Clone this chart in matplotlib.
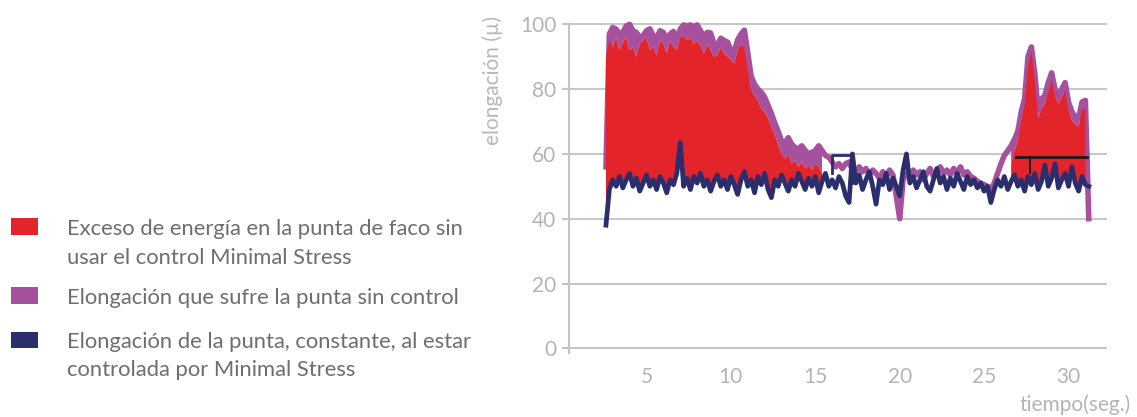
#------
# Elongacion de la punta de faco con y sin control Minimal Stress
#------
import numpy as np
import matplotlib.pyplot as plt
from matplotlib.patches import Rectangle

#------ Datos (muestreo cada 0.2 s desde 2.6 s)
t0, dt = 2.6, 0.2

# Elongacion sin control (envolvente morada)
purple = [56, 97, 99, 98.5, 97, 97.5, 99.5, 100, 98, 97.5,
          96, 96.5, 98, 98.6, 96.5, 95.7, 98, 97.5, 95.2, 97,
          97.8, 95.2, 98.5, 99.8, 99.5, 99.8, 99.2, 99.8, 98, 96.2,
          97.5, 97.3, 94, 93.5, 95.7, 95, 94.5, 92, 91.5, 95.2,
          97, 98.2, 91, 84, 81.5, 80, 79, 77.5, 75, 72.5,
          69.5, 67, 64, 63.5, 65, 63, 62, 61.5, 62.5, 61,
          60, 60.5, 61, 62.5, 61, 59.5, 59, 57.5, 56, 57,
          55.5, 57, 57.5, 55, 54.5, 56, 54.5, 55.5, 53.5, 55,
          54, 52.5, 54.5, 53, 55, 53.5, 47, 40, 52, 54,
          52.5, 55, 53.5, 54.5, 52, 54, 55.5, 53, 54.5, 56,
          54, 55, 53.5, 55.5, 54, 56, 53.5, 54.5, 53, 52.5,
          51.5, 51, 50.5, 50, 49, 51, 54, 57, 59.5, 61,
          62.5, 64.5, 67, 73, 77, 90, 93, 85, 73.5, 77,
          78, 82, 85, 80, 78, 80, 82, 76, 73, 71.5,
          71, 76, 76.5, 40]

# Exceso de energia (tope de la zona roja)
nan = np.nan
red_top = [90, 95, 93, 96, 92, 94.5, 96, 92, 93, 90,
           94, 95, 96, 92, 93, 90.5, 95, 94, 91, 95,
           93, 92, 96, 96.5, 95, 96, 94, 95, 93.5, 91,
           94, 92, 90, 90.5, 93, 91, 90, 89, 88, 92,
           94, 93, 86, 80, 78, 76.5, 74, 73, 71, 68.5,
           66, 63, 60, 58.5, 60, 57, 58, 56, 57.5, 55.5,
           56.5, 55, 57, 56, 54, nan, nan, nan, nan, nan,
           nan, nan, nan, nan, nan, nan, nan, nan, nan, nan,
           nan, nan, nan, nan, nan, nan, nan, nan, nan, nan,
           nan, nan, nan, nan, nan, nan, nan, nan, nan, nan,
           nan, nan, nan, nan, nan, nan, nan, nan, nan, nan,
           nan, nan, nan, nan, nan, nan, nan, nan, nan, nan,
           57, 61, 64, 70, 75, 87, 91.5, 83, 71, 74,
           75.5, 79, 83, 78, 75.5, 77.5, 79.5, 73.5, 70.5, 69,
           68.5, 73.5, 74, nan]

# Elongacion controlada (azul)
navy = [38, 49, 52, 50, 53, 49.5, 52, 54, 50, 52.5,
        48.5, 51, 53.5, 50, 52, 49, 53, 51, 48, 52,
        50.5, 54, 63.5, 50, 52.5, 49, 53, 51, 54, 50,
        52, 48.5, 51.5, 53.5, 50, 52, 49, 53, 50.5, 47.5,
        52, 54.5, 50, 52, 48, 53, 50.5, 54, 49, 46.5,
        52, 50, 53.5, 51, 48.5, 52, 50, 54, 51.5, 49,
        52.5, 50, 53, 48, 51.5, 54, 50, 52, 49.5, 53,
        51, 47, 45, 60, 51, 53.5, 49, 52, 54.5, 50,
        44.5, 52, 50.5, 54, 49, 52.5, 50, 47, 55, 60,
        51, 53, 49.5, 52, 54.5, 50, 48.5, 52, 55.5, 51,
        53, 49, 52.5, 50, 54, 51.5, 49, 53, 50.5, 52,
        49.5, 51, 48.5, 50, 45, 49, 52, 50, 53, 49,
        51.5, 53.5, 50, 52, 48.5, 53, 50.5, 54, 49, 51.5,
        56.5, 50, 52.5, 57, 49.5, 52, 54, 50, 56, 51,
        48.5, 53, 50.5, 50]

# Marcas de nivel (negro al final, azul hacia 16-17 s)
level_t = [26.9, 31.1]
level_y = [59.1, 59.1]
level_tick_t = [27.7, 27.7]
level_tick_y = [59.1, 54]
bracket_t = [16.0, 16.0, 17.2, 17.2]
bracket_y = [54, 59.6, 59.6, 51]

xticks = [5, 10, 15, 20, 25, 30]
yticks = [0, 20, 40, 60, 80, 100]

leg_labels = [["Exceso de energía en la punta de faco sin", "usar el control Minimal Stress"],
              ["Elongación que sufre la punta sin control"],
              ["Elongación de la punta, constante, al estar", "controlada por Minimal Stress"]]

c_red = '#e3242b'
c_purple = '#a5519e'
c_navy = '#2b2e6c'
leg_colors = [c_red, c_purple, c_navy]

#------ Arrays
purple = np.array(purple, dtype=float)
red_top = np.array(red_top, dtype=float)
navy = np.array(navy, dtype=float)
t = np.round(t0 + dt*np.arange(len(purple)), 2)

plt.rcParams['font.family'] = ['Lato', 'DejaVu Sans']

W, H = 1137, 417
fig = plt.figure(figsize=(W/100, H/100), dpi=100)
ax = fig.add_axes([569/W, 1 - 354.8/H, (1107-569)/W, (354.8-17.8)/H])

#------ Series
ax.plot(t, purple, color=c_purple, lw=4, zorder=2)
ax.fill_between(t, red_top, purple, color=c_purple, lw=0, zorder=2)
ax.fill_between(t, navy, red_top, color=c_red, lw=0, zorder=3)
ax.plot(t, navy, color=c_navy, lw=3.4, zorder=4)
ax.plot(level_t, level_y, color='#1a1a1a', lw=2, zorder=5)
ax.plot(level_tick_t, level_tick_y, color='#1a1a1a', lw=1.5, zorder=5)
ax.plot(bracket_t, bracket_y, color=c_navy, lw=2, zorder=5)

#------ Ejes
ax.set_xlim(0.41, 32.28)
ax.set_ylim(-2, 102)
ax.set_xticks(xticks)
ax.set_yticks(yticks)
ax.yaxis.grid(True, color='#c8c8c8', lw=1.5)
ax.set_axisbelow(True)
for s in ['top', 'right', 'bottom']:
    ax.spines[s].set_visible(False)
ax.spines['left'].set_color('#c4c4c4')
ax.spines['left'].set_linewidth(1.5)
ax.spines['left'].set_bounds(-1.5, 100)
ax.tick_params(axis='y', direction='out', length=5, width=1.5, color='#c4c4c4',
               labelcolor='#b4b4b4', labelsize=15, pad=4)
ax.tick_params(axis='x', length=0, labelcolor='#b4b4b4', labelsize=15, pad=9)

fig.text(493/W, 1 - 80/H, "elongación (µ)", rotation=90, ha='center', va='center',
         color='#b8b8b8', fontsize=15)
fig.text(1131/W, 1 - 411/H, "tiempo(seg.)", ha='right', va='baseline',
         color='#b4b4b4', fontsize=15)

#------ Leyenda
baselines = [[235, 264], [304], [348, 376]]
boxes = [(218, 235), (287, 304), (332, 348)]
for labels, col, bl, (y0, y1) in zip(leg_labels, leg_colors, baselines, boxes):
    fig.add_artist(Rectangle((10.7/W, 1 - y1/H), 27/W, (y1-y0)/H,
                             transform=fig.transFigure, color=col, lw=0))
    for txt, b in zip(labels, bl):
        fig.text(67/W, 1 - b/H, txt, ha='left', va='baseline',
                 color='#6d6e71', fontsize=15.8)

fig.savefig('out.png', dpi=100)
